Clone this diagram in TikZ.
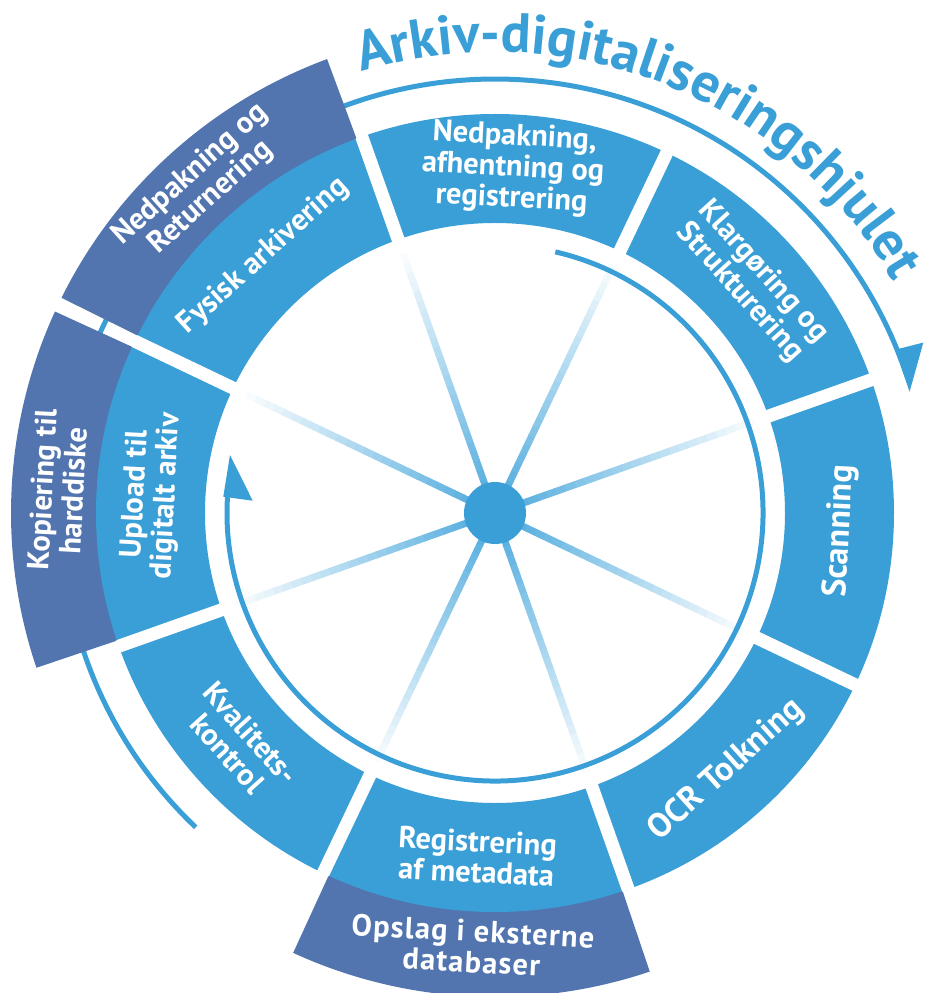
\documentclass[tikz,border=0pt]{standalone}
\usepackage{fontspec}
\setmainfont{PT Sans}
\usetikzlibrary{decorations.text}
\definecolor{lb}{RGB}{57,159,214}
\definecolor{db}{RGB}{82,117,175}
\definecolor{spk}{RGB}{92,177,224}
\newcommand\mysector[5]{\fill[#1] (#2:#4) arc[start angle=#2,end angle=#3,radius=#4] -- (#3:#5) arc[start angle=#3,end angle=#2,radius=#5] -- cycle;}
\begin{document}
\begin{tikzpicture}[x=1pt,y=1pt,
  segtext/.style={text=white, font=\bfseries\fontsize{30.5}{31}\selectfont, align=center, inner sep=0pt},
  bigtext/.style={text=white, font=\bfseries\fontsize{34}{36}\selectfont, align=center, inner sep=0pt},
  arcline/.style={draw=lb, line width=5pt},
  gapline/.style={draw=white, line width=13pt, line cap=butt}]
\useasboundingbox (-495,-480) rectangle (430,513);
% outer arc with arrowhead
\draw[arcline] (226.4:434) arc[start angle=226.4, end angle=20.5, radius=434];
\fill[lb] (22.2:432) -- (21.7:461) -- (16.3:432) -- cycle;
% dark outer segments
\mysector{db}{110.3}{153.6}{396}{484}
\mysector{db}{155.4}{198.65}{396}{484}
\mysector{db}{-114.65}{-71.35}{396}{484}
% light ring
\fill[lb, even odd rule] (0,0) circle[radius=399] (0,0) circle[radius=290];
% gaps
\foreach \g in {109.5,64.5,19.5,-25.5,-70.5,-115.5,-160.5,154.5}{
  \draw[gapline] (\g:282) -- (\g:399.5);
}
% spokes
\foreach \g in {109.5,64.5,19.5,-25.5,-70.5,-115.5,-160.5,154.5}{
  \foreach \i in {0,...,25}{
    \pgfmathsetmacro\pc{100-\i*4}
    \pgfmathsetmacro\ra{25+\i*10}
    \pgfmathsetmacro\rb{25+\i*10+10.6}
    \draw[line width=7pt, draw=spk!\pc!white] (\g:\ra) -- (\g:\rb);
  }
}
% hub
\fill[lb] (0,0) circle[radius=31];
% inner arc with arrowhead
\draw[arcline] (77:268) arc[start angle=77, end angle=-183.5, radius=268];
\fill[lb] (167.65:271.3) -- (176.57:272.2) -- (177.1:242.6) -- cycle;
% texts light ring
\node[segtext, rotate=-3] (t1) at (87:345) {Nedpakning,\\afhentning og\\registrering};
\node[segtext, rotate=-48] (t2) at (42:345) {Klargøring og\\Strukturering};
\node[bigtext, rotate=87] (t3) at (-3:346) {Scanning};
\node[bigtext, rotate=42] (t4) at (-48:346) {OCR Tolkning};
\node[segtext, rotate=-3] (t5) at (-93:344) {Registrering\\af metadata};
\node[segtext, rotate=-48] (t6) at (-138:344) {Kvalitets-\\kontrol};
\node[segtext, rotate=87] (t7) at (177:344) {Upload til\\digitalt arkiv};
\node[segtext, rotate=42] (t8) at (132:346) {Fysisk arkivering};
% texts dark ring
\node[segtext, rotate=42] (d1) at (132:440) {Nedpakning og\\Returnering};
\node[segtext, rotate=87] (d2) at (177:438) {Kopiering til\\harddiske};
\node[segtext, rotate=-3] (d3) at (-93:434) {\addfontfeature{LetterSpace=4}Opslag i eksterne\\\addfontfeature{LetterSpace=4}databaser};
% title
\path[decorate, decoration={text along path, text align=center, text color=lb,
  text={|\bfseries\fontsize{55.5}{60}\selectfont|Arkiv-digitaliseringshjulet}}]
  (118.5:461) arc[start angle=118.5, end angle=18.5, radius=461];
\end{tikzpicture}
\end{document}
